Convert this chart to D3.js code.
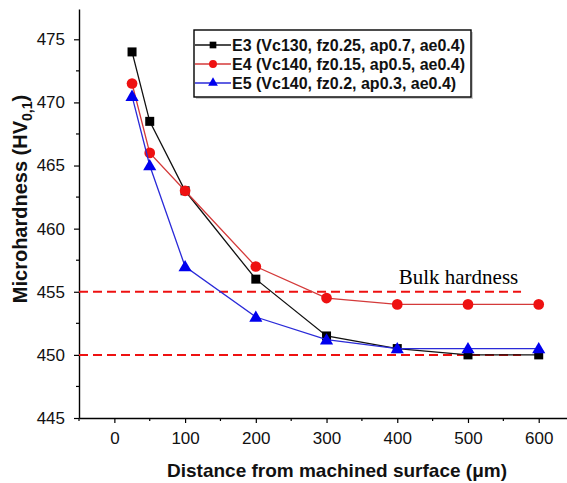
<!DOCTYPE html>
<html>
<head>
<meta charset="utf-8">
<script src="https://cdn.jsdelivr.net/npm/d3@7"></script>
<style>
  body { margin: 0; background: #fff; }
  svg { display: block; }
  .tick text { font-family: Arial, "Liberation Sans", sans-serif; }
</style>
</head>
<body>
<div id="chart"></div>
<script>
// distances (um) and hardness values
var distances = [25, 50, 100, 200, 300, 400, 500, 600];
var e3 = [474, 468.5, 463, 456, 451.5, 450.5, 450, 450];
var e4 = [471.5, 466, 463, 457, 454.5, 454, 454, 454];
var e5 = [470.5, 465, 457, 453, 451.2, 450.5, 450.5, 450.5];
var seriesNames = ['E3 (Vc130, fz0.25, ap0.7, ae0.4)',
                   'E4 (Vc140, fz0.15, ap0.5, ae0.4)',
                   'E5 (Vc140, fz0.2, ap0.3, ae0.4)'];
var xTicks = [0, 100, 200, 300, 400, 500, 600];
var yTicks = [445, 450, 455, 460, 465, 470, 475];
var bulkLevels = [455, 450];

var width = 567, height = 483;
var font = 'Arial, "Liberation Sans", sans-serif';

var svg = d3.select('#chart').append('svg')
    .attr('width', width)
    .attr('height', height);

var x = d3.scaleLinear().domain([-50, 640]).range([79, 567]);
var y = d3.scaleLinear().domain([445, 477.4]).range([418, 9]);

var series = [
    {name: seriesNames[0], values: e3, line: '#111', fill: '#000', shape: d3.symbolSquare, size: 81},
    {name: seriesNames[1], values: e4, line: '#d43a3a', fill: '#ee1111', shape: d3.symbolCircle, size: 90},
    {name: seriesNames[2], values: e5, line: '#2a2ad8', fill: '#0000ee', shape: d3.symbolTriangle, size: 75}
];

// minor ticks
var gMinor = svg.append('g').attr('class', 'minor');
gMinor.selectAll('.mx').data(d3.range(-50, 650, 100))
    .enter().append('line')
    .attr('x1', function(d) { return x(d); })
    .attr('x2', function(d) { return x(d); })
    .attr('y1', 418).attr('y2', 421)
    .attr('stroke', '#000').attr('stroke-width', 1.2);
gMinor.selectAll('.my').data(d3.range(447.5, 477, 5))
    .enter().append('line')
    .attr('y1', function(d) { return y(d); })
    .attr('y2', function(d) { return y(d); })
    .attr('x1', 79).attr('x2', 76)
    .attr('stroke', '#000').attr('stroke-width', 1.2);

// axes
var xAxis = svg.append('g')
    .attr('transform', 'translate(0,418)')
    .call(d3.axisBottom(x).tickValues(xTicks).tickSize(5).tickPadding(9).tickSizeOuter(0));
var yAxis = svg.append('g')
    .attr('transform', 'translate(79,0)')
    .call(d3.axisLeft(y).tickValues(yTicks).tickSize(5).tickPadding(9).tickSizeOuter(0));

[xAxis, yAxis].forEach(function(a) {
    a.select('.domain').attr('stroke-width', 1.4);
    a.selectAll('.tick line').attr('stroke-width', 1.2);
    a.selectAll('.tick text')
	.attr('font-size', 17)
	.attr('fill', '#111');
});

// bulk hardness reference lines
svg.selectAll('.bulk').data(bulkLevels)
    .enter().append('line')
    .attr('class', 'bulk')
    .attr('x1', x(-50))
    .attr('x2', x(575))
    .attr('y1', function(d) { return y(d); })
    .attr('y2', function(d) { return y(d); })
    .attr('stroke', '#ee1111')
    .attr('stroke-width', 2)
    .attr('stroke-dasharray', '9,5');

svg.append('text')
    .attr('x', x(402))
    .attr('y', y(455.65))
    .attr('font-family', '"Liberation Serif", "Times New Roman", serif')
    .attr('font-size', 21)
    .attr('fill', '#000')
    .text('Bulk hardness');

// series lines and markers
var line = d3.line()
    .x(function(d, i) { return x(distances[i]); })
    .y(function(d) { return y(d); });

series.forEach(function(s) {
    svg.append('path')
	.datum(s.values)
	.attr('d', line)
	.attr('fill', 'none')
	.attr('stroke', s.line)
	.attr('stroke-width', 1.3);
    svg.append('g').selectAll('path')
	.data(s.values)
	.enter().append('path')
	.attr('d', d3.symbol().type(s.shape).size(s.size))
	.attr('transform', function(d, i) {
	    var dy = s.shape === d3.symbolTriangle ? 1 : 0;
	    return 'translate(' + x(distances[i]) + ',' + (y(d) + dy) + ')';
	})
	.attr('fill', s.fill);
});

// legend
var legend = svg.append('g');
legend.append('rect')
    .attr('x', 196).attr('y', 32)
    .attr('width', 277).attr('height', 67)
    .attr('fill', '#ccc');
legend.append('rect')
    .attr('x', 194).attr('y', 30)
    .attr('width', 277).attr('height', 67)
    .attr('fill', '#fff')
    .attr('stroke', '#000')
    .attr('stroke-width', 1.4);

series.forEach(function(s, i) {
    var ly = 45 + i * 19;
    legend.append('line')
	.attr('x1', 195).attr('x2', 231)
	.attr('y1', ly).attr('y2', ly)
	.attr('stroke', s.line)
	.attr('stroke-width', 1.3);
    legend.append('path')
	.attr('d', d3.symbol().type(s.shape).size(s.size * 0.55))
	.attr('transform', 'translate(213,' + ly + ')')
	.attr('fill', s.fill);
    legend.append('text')
	.attr('x', 232)
	.attr('y', ly + 6)
	.attr('font-family', font)
	.attr('font-weight', 'bold')
	.attr('font-size', 16)
	.attr('fill', '#111')
	.text(s.name);
});

// axis titles
svg.append('text')
    .attr('x', 337)
    .attr('y', 477)
    .attr('text-anchor', 'middle')
    .attr('font-family', font)
    .attr('font-weight', 'bold')
    .attr('font-size', 19)
    .attr('fill', '#111')
    .text('Distance from machined surface (\u03bcm)');

var yTitle = svg.append('text')
    .attr('transform', 'translate(27,199) rotate(-90)')
    .attr('text-anchor', 'middle')
    .attr('font-family', font)
    .attr('font-weight', 'bold')
    .attr('font-size', 20)
    .attr('fill', '#111');
yTitle.append('tspan').text('Microhardness (HV');
yTitle.append('tspan').attr('font-size', 14).attr('dy', 5).text('0,1');
yTitle.append('tspan').attr('dy', -5).text(')');
</script>
</body>
</html>
